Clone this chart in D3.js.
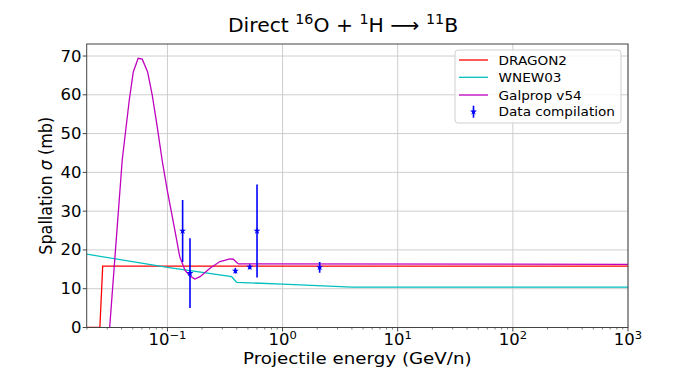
<!DOCTYPE html>
<html>
<head>
<meta charset="utf-8">
<script src="https://cdn.jsdelivr.net/npm/d3@7/dist/d3.min.js"></script>
<style>
  html, body { margin: 0; padding: 0; background: #fff; }
  text { font-family: "DejaVu Sans", sans-serif; fill: #000; }
</style>
</head>
<body>
<svg id="chart" width="698" height="368"></svg>
<script>
// ---- data ----
const energyDragon = [0.0199, 0.0259, 0.0274, 1000];
const sigmaDragon  = [0, 0, 15.8, 15.8];

const energyWnew = [0.0199, 0.1, 0.361, 0.40, 1.0, 4.0, 1000];
const sigmaWnew  = [18.9, 15.5, 13.1, 11.65, 11.2, 10.4, 10.4];

const energyGalprop = [0.0315, 0.0405, 0.0466, 0.0505, 0.0557, 0.0604, 0.0673, 0.0738, 0.0815,
                       0.0901, 0.0996, 0.116, 0.128, 0.142, 0.157, 0.173, 0.192, 0.234, 0.286,
                       0.349, 0.373, 0.413, 1000];
const sigmaGalprop  = [0, 43.2, 58.6, 65.9, 69.4, 69.2, 65.9, 59.9, 51.8,
                       43.0, 35.4, 25.1, 18.2, 14.8, 13.3, 12.5, 13.1, 15.3, 17.0,
                       17.7, 17.6, 16.4, 16.3];

const energyData = [0.1355, 0.157, 0.389, 0.519, 0.600, 2.10];
const sigmaData  = [24.9, 14.0, 14.6, 15.6, 24.9, 15.5];
const errData    = [8.0, 9.0, 0.7, 0.6, 12.0, 1.4];

const xTickExps = [-1, 0, 1, 2, 3];
const yTicks = [0, 10, 20, 30, 40, 50, 60, 70];
const seriesNames = ["DRAGON2", "WNEW03", "Galprop v54", "Data compilation"];
const seriesColors = ["#ff0000", "#00bfbf", "#bf00bf", "#0000ff"];

// ---- layout ----
const L = 86.7, R = 628, T = 44, B = 327.5;
const SX = 1.1; // horizontal stretch of text seen in the reference
const svg = d3.select("#chart");
const x = d3.scaleLog().domain([0.0199, 1000]).range([L, R]);
const y = d3.scaleLinear().domain([0, 73.1]).range([B, T]);

svg.append("defs").append("clipPath").attr("id", "clip")
  .append("rect").attr("x", L).attr("y", T).attr("width", R - L).attr("height", B - T);

// grid
const grid = svg.append("g");
xTickExps.forEach(e => {
  grid.append("line").attr("x1", x(Math.pow(10, e))).attr("x2", x(Math.pow(10, e)))
    .attr("y1", T).attr("y2", B).attr("stroke", "#c8c8c8").attr("stroke-width", 0.9);
});
yTicks.forEach(v => {
  grid.append("line").attr("x1", L).attr("x2", R).attr("y1", y(v)).attr("y2", y(v))
    .attr("stroke", "#c8c8c8").attr("stroke-width", 0.9);
});

// lines
const plot = svg.append("g").attr("clip-path", "url(#clip)");
const line = d3.line().x(d => x(d[0])).y(d => y(d[1]));
const series = [
  [energyDragon, sigmaDragon],
  [energyWnew, sigmaWnew],
  [energyGalprop, sigmaGalprop]
];
series.forEach((s, i) => {
  const pts = s[0].map((e, k) => [e, s[1][k]]);
  plot.append("path").datum(pts).attr("d", line)
    .attr("fill", "none").attr("stroke", seriesColors[i]).attr("stroke-width", 1.3);
});

// data with error bars
const star = d3.symbol().type(d3.symbolStar).size(15);
energyData.forEach((e, k) => {
  const cx = x(e);
  plot.append("line").attr("x1", cx).attr("x2", cx)
    .attr("y1", y(sigmaData[k] - errData[k])).attr("y2", y(sigmaData[k] + errData[k]))
    .attr("stroke", seriesColors[3]).attr("stroke-width", 1.6);
  plot.append("path").attr("d", star)
    .attr("transform", `translate(${cx},${y(sigmaData[k])})`)
    .attr("fill", seriesColors[3]);
});

// axes frame
svg.append("rect").attr("x", L).attr("y", T).attr("width", R - L).attr("height", B - T)
  .attr("fill", "none").attr("stroke", "#444").attr("stroke-width", 1);

// x ticks
const xt = svg.append("g");
for (let e = -2; e < 3; e++) {
  for (let m = 2; m <= 9; m++) {
    const v = m * Math.pow(10, e);
    if (v < 0.0199 || v > 1000) continue;
    xt.append("line").attr("x1", x(v)).attr("x2", x(v)).attr("y1", B).attr("y2", B + 2)
      .attr("stroke", "#444").attr("stroke-width", 0.7);
  }
}
xTickExps.forEach(e => {
  const cx = x(Math.pow(10, e));
  xt.append("line").attr("x1", cx).attr("x2", cx).attr("y1", B).attr("y2", B + 4)
    .attr("stroke", "#444").attr("stroke-width", 1);
  const t = xt.append("text").attr("transform", `translate(${cx},345) scale(${SX},1)`)
    .attr("text-anchor", "middle").attr("font-size", 15);
  t.append("tspan").text("10");
  t.append("tspan").attr("dy", -6.5).attr("font-size", 10.5).text(e < 0 ? "\u2212" + (-e) : String(e));
});

// y ticks
const yt = svg.append("g");
yTicks.forEach(v => {
  yt.append("line").attr("x1", L - 4).attr("x2", L).attr("y1", y(v)).attr("y2", y(v))
    .attr("stroke", "#444").attr("stroke-width", 1);
  yt.append("text").attr("transform", `translate(81.5,${y(v) + 5.5}) scale(${SX},1)`)
    .attr("text-anchor", "end").attr("font-size", 15).text(v);
});

// axis labels
svg.append("text").attr("transform", `translate(${(L + R) / 2},364) scale(1.14,1)`)
  .attr("text-anchor", "middle").attr("font-size", 16).text("Projectile energy (GeV/n)");
const yl = svg.append("text").attr("transform", `translate(52,${(T + B) / 2}) rotate(-90) scale(1,1.12)`)
  .attr("text-anchor", "middle").attr("font-size", 16);
yl.append("tspan").text("Spallation ");
yl.append("tspan").attr("font-style", "italic").text("\u03c3");
yl.append("tspan").text(" (mb)");

// title
const title = svg.append("text").attr("transform", "translate(343,32) scale(1.06,1)")
  .attr("text-anchor", "middle").attr("font-size", 19.2);
title.append("tspan").text("Direct ");
title.append("tspan").attr("dy", -8).attr("font-size", 13.5).text("16");
title.append("tspan").attr("dy", 8).text("O + ");
title.append("tspan").attr("dy", -8).attr("font-size", 13.5).text("1");
title.append("tspan").attr("dy", 8).text("H \u27f6 ");
title.append("tspan").attr("dy", -8).attr("font-size", 13.5).text("11");
title.append("tspan").attr("dy", 8).text("B");

// legend
const lg = svg.append("g");
lg.append("rect").attr("x", 455).attr("y", 50).attr("width", 166).attr("height", 73)
  .attr("rx", 3).attr("fill", "#fff").attr("fill-opacity", 0.8)
  .attr("stroke", "#d0d0d0").attr("stroke-width", 1);
const rowsY = [60, 77.3, 95, 111.7];
seriesNames.forEach((name, i) => {
  const ry = rowsY[i];
  if (i < 3) {
    lg.append("line").attr("x1", 459).attr("x2", 488).attr("y1", ry).attr("y2", ry)
      .attr("stroke", seriesColors[i]).attr("stroke-width", 1.3);
  } else {
    lg.append("line").attr("x1", 473.5).attr("x2", 473.5).attr("y1", ry - 6).attr("y2", ry + 6)
      .attr("stroke", seriesColors[3]).attr("stroke-width", 1.6);
    lg.append("path").attr("d", star).attr("transform", `translate(473.5,${ry})`)
      .attr("fill", seriesColors[3]);
  }
  lg.append("text").attr("transform", `translate(498.5,${ry + 4.6}) scale(1.08,1)`)
    .attr("font-size", 12.6).text(name);
});
</script>
</body>
</html>
